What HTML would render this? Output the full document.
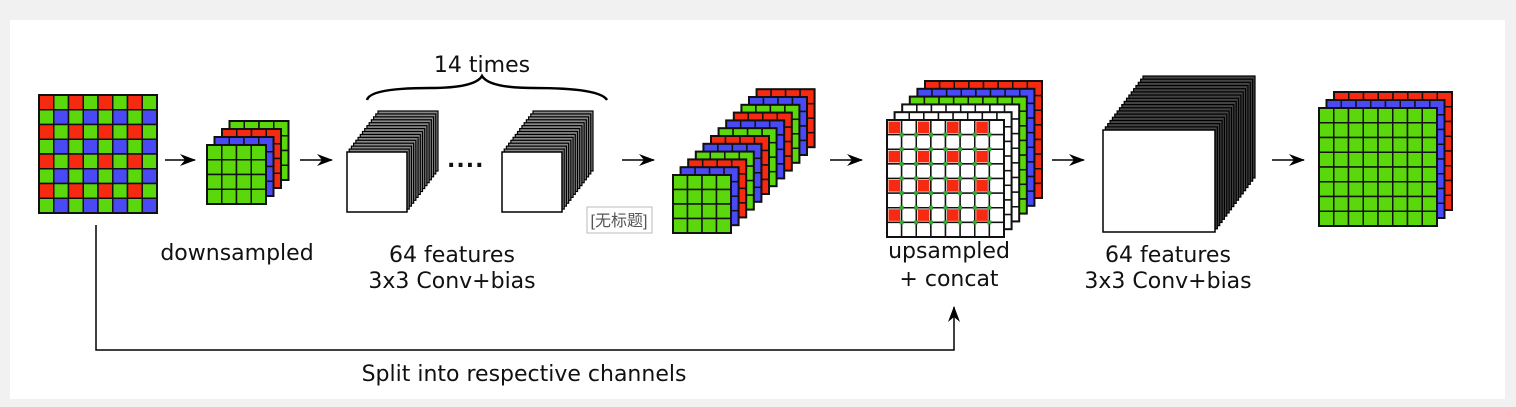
<!DOCTYPE html>
<html><head><meta charset="utf-8"><style>
html,body{margin:0;padding:0;background:#f1f1f1;}
#wrap{position:relative;width:1516px;height:407px;overflow:hidden;}
svg{position:absolute;left:0;top:0;}
text{font-family:"DejaVu Sans","Liberation Sans",sans-serif;font-size:22px;fill:#111;}
</style></head><body><div id="wrap">
<svg id="s" width="1516" height="407" xmlns="http://www.w3.org/2000/svg">
<rect x="10" y="20" width="1495" height="379" fill="#fff"/>
<defs><marker id="ah" markerWidth="16" markerHeight="12" refX="15" refY="6" orient="auto" markerUnits="userSpaceOnUse"><path d="M0,0 L16,6 L0,12 L5,6 Z" fill="#000"/></marker></defs>
<g id="g"></g>
<path d="M367,100 Q370,88 430,88 Q475,88 482,76 Q489,88 534,88 Q600,88 607,100" fill="none" stroke="#000" stroke-width="2.5"/>
<text x="482" y="72" text-anchor="middle">14 times</text>
<text x="447" y="167" font-size="24" font-weight="bold" letter-spacing="1">....</text>
<text x="237" y="260" text-anchor="middle">downsampled</text>
<text x="452" y="262" text-anchor="middle">64 features</text>
<text x="452" y="288" text-anchor="middle">3x3 Conv+bias</text>
<text x="949" y="258" text-anchor="middle">upsampled</text>
<text x="949" y="286" text-anchor="middle">+ concat</text>
<text x="1168" y="262" text-anchor="middle">64 features</text>
<text x="1168" y="288" text-anchor="middle">3x3 Conv+bias</text>
<text x="524" y="381" text-anchor="middle">Split into respective channels</text>
<rect x="587" y="207" width="65" height="26" fill="#fff" stroke="#bbb" stroke-width="1"/>
<text x="619" y="226" text-anchor="middle" style="font-family:'Liberation Sans','Noto Sans CJK SC',sans-serif;fill:#555;font-size:16px">[无标题]</text>
<path d="M96,225 V350 H954 V307" fill="none" stroke="#000" stroke-width="1.5" marker-end="url(#ah)"/>
</svg>
<script>
var g=document.getElementById('g'),NS='http://www.w3.org/2000/svg';
function el(t,a){var e=document.createElementNS(NS,t);for(var k in a)e.setAttribute(k,a[k]);g.appendChild(e);return e;}
var R='#f52a10',G='#5ad80c',B='#4a4af5',W='#fff';
function grid(x,y,s,n,fill,sw){
  for(var i=0;i<n;i++)for(var j=0;j<n;j++){
    var c=typeof fill=='function'?fill(i,j):fill;
    el('rect',{x:x+j*s/n,y:y+i*s/n,width:s/n,height:s/n,fill:c,stroke:'#111','stroke-width':sw||1.5});
  }
  el('rect',{x:x,y:y,width:s,height:s,fill:'none',stroke:'#111','stroke-width':2});
}
function stack(x,y,s,n,cols,dx,dy){
  for(var k=cols.length-1;k>=0;k--){grid(x+k*dx,y+k*dy,s,n,cols[k]);}
}
grid(39,95,118,8,function(i,j){return i%2==0?(j%2==0?R:G):(j%2==0?G:B);});
stack(207,145,59,4,[G,B,R,G],7.5,-8);
[[165,195],[300,332],[622,654],[830,862],[1052,1084],[1272,1304]].forEach(function(a){
  el('line',{x1:a[0],y1:160,x2:a[1],y2:160,stroke:'#000','stroke-width':1.5,'marker-end':'url(#ah)'});
});
function block(x,y,w,h,dx,dy,n,fillb){
  for(var k=n;k>=1;k--){el('rect',{x:x+dx*k/n,y:y+dy*k/n,width:w,height:h,fill:fillb,stroke:'#000','stroke-width':1.2});}
  el('rect',{x:x,y:y,width:w,height:h,fill:'#fff',stroke:'#000','stroke-width':1.5});
}
block(347,152,60,60,31,-41,14,'#888');
block(502,152,60,60,31,-41,14,'#888');
block(1103,130,112,102,40,-54,17,'#444');
var c12=[];for(var k=0;k<12;k++){c12.push([G,B,R][k%3]);}
stack(673,175,58,4,c12,7.6,-7.8);
var ups=[null,W,W,G,B,R];
for(var k=5;k>=1;k--)grid(887+k*7.6,120-k*7.8,117,8,ups[k]);
grid(887,120,117,8,W);
var s=117/8;
for(var i=0;i<8;i+=2)for(var j=0;j<8;j+=2){el('rect',{x:887+j*s+1.5,y:120+i*s+1.5,width:s-3,height:s-3,fill:R});}
for(var i=1;i<8;i++)for(var j=1;j<8;j++){el('rect',{x:887+j*s-2,y:120+i*s-2,width:4,height:4,fill:'#3a3'});}
stack(1319,108,118,8,[G,B,R],7.5,-8);
</script>
</div></body></html>
